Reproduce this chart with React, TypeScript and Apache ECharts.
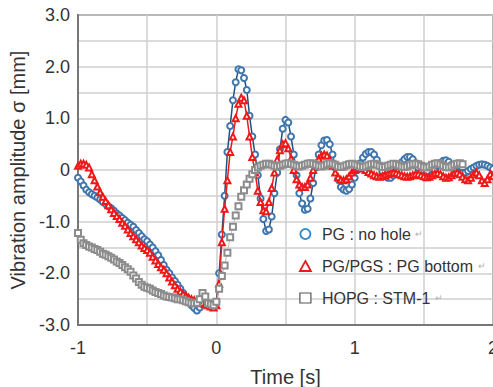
import React, { useEffect, useRef } from "react";
import * as echarts from "echarts";

const T_START = -1;
const T_STEP = 0.02;

const PG_NO_HOLE = [
  -0.15, -0.22, -0.3, -0.38, -0.43, -0.47, -0.5, -0.53, -0.57, -0.62,
  -0.66, -0.7, -0.74, -0.79, -0.84, -0.88, -0.93, -0.97, -1.02, -1.06,
  -1.1, -1.16, -1.22, -1.28, -1.34, -1.38, -1.44, -1.5, -1.57, -1.65,
  -1.74, -1.84, -1.93, -2.0, -2.08, -2.15, -2.22, -2.3, -2.38, -2.46,
  -2.54, -2.62, -2.67, -2.72, -2.66, -2.6, -2.58, -2.62, -2.64, -2.62,
  -2.55,
  -2.0, -1.25, -0.5, 0.35, 0.85, 1.35, 1.7, 1.95, 1.93, 1.78,
  1.55, 1.05, 0.65, 0.3, -0.1, -0.55, -0.95, -1.18, -1.15, -0.9,
  -0.45, -0.05, 0.4, 0.8, 0.97, 0.92, 0.65, 0.3, -0.1, -0.45,
  -0.65, -0.77, -0.75, -0.55, -0.25, 0.05, 0.3, 0.48, 0.57, 0.58,
  0.5, 0.3, 0.05, -0.18, -0.33, -0.38, -0.4, -0.37, -0.28, -0.15,
  0.0, 0.13, 0.24, 0.31, 0.35, 0.35, 0.3, 0.2, 0.08, -0.03,
  -0.11, -0.15, -0.15, -0.1, -0.02, 0.07, 0.15, 0.21, 0.25, 0.25,
  0.21, 0.13, 0.04, -0.05, -0.11, -0.14, -0.13, -0.08, 0.0, 0.08,
  0.14, 0.18, 0.19, 0.16, 0.1, 0.03, -0.02, -0.05, -0.06, -0.05,
  -0.02, 0.02, 0.05, 0.08, 0.1, 0.11, 0.1, 0.08, 0.05, 0.02,
];

const PG_PGS = [
  0.08, 0.12, 0.12, 0.1, 0.05, -0.08, -0.2, -0.32, -0.43, -0.52,
  -0.6, -0.68, -0.76, -0.83, -0.89, -0.95, -1.02, -1.08, -1.15, -1.22,
  -1.28, -1.34, -1.4, -1.46, -1.51, -1.55, -1.6, -1.68, -1.75, -1.82,
  -1.88, -1.93, -2.0, -2.08, -2.16, -2.23, -2.3, -2.35, -2.4, -2.44,
  -2.47, -2.5, -2.52, -2.55, -2.56, -2.58, -2.6, -2.62, -2.64, -2.66,
  -2.62,
  -2.2, -1.4, -0.75, -0.2, 0.35, 0.65, 1.0, 1.28, 1.4, 1.35,
  1.05, 0.65, 0.25, -0.05, -0.4, -0.62, -0.78, -0.8, -0.62, -0.35,
  -0.05, 0.2, 0.38, 0.5, 0.52, 0.42, 0.22, 0.0, -0.18, -0.28,
  -0.33, -0.33, -0.28, -0.15, 0.0, 0.12, 0.22, 0.28, 0.3, 0.28,
  0.2, 0.08, -0.05, -0.14, -0.19, -0.2, -0.18, -0.12, -0.05, 0.0,
  0.04, 0.05, 0.03, 0.0, -0.04, -0.07, -0.1, -0.12, -0.13, -0.12,
  -0.1, -0.08, -0.06, -0.05, -0.06, -0.08, -0.1, -0.12, -0.13, -0.12,
  -0.1, -0.08, -0.08, -0.1, -0.12, -0.14, -0.13, -0.1, -0.07, -0.06,
  -0.08, -0.12, -0.15, -0.14, -0.1, -0.06, -0.05, -0.08, -0.13, -0.18,
  -0.2, -0.15, -0.08, -0.05, -0.1, -0.2, -0.25, -0.18, -0.08, -0.12,
];

const HOPG = [
  -1.22, -1.35, -1.42, -1.45, -1.48, -1.5, -1.53, -1.55, -1.58, -1.62,
  -1.64, -1.67, -1.7, -1.73, -1.77, -1.8, -1.84, -1.88, -1.92, -1.97,
  -2.04, -2.1, -2.17, -2.22, -2.26, -2.28, -2.3, -2.33, -2.36, -2.38,
  -2.4, -2.43, -2.45, -2.46, -2.47, -2.48, -2.5, -2.5, -2.52, -2.54,
  -2.56, -2.58, -2.58, -2.57, -2.5, -2.38, -2.45, -2.58, -2.6, -2.62,
  -2.55,
  -2.3, -2.05, -1.85, -1.6, -1.3, -1.1, -0.88, -0.7, -0.52, -0.39,
  -0.28, -0.17, -0.08, 0.0, 0.05, 0.08, 0.1, 0.12, 0.12, 0.1,
  0.08, 0.07, 0.08, 0.1, 0.12, 0.13, 0.12, 0.1, 0.08, 0.07,
  0.08, 0.1, 0.12, 0.13, 0.12, 0.1, 0.08, 0.07, 0.08, 0.11,
  0.13, 0.12, 0.1, 0.07, 0.06, 0.07, 0.09, 0.11, 0.12, 0.11,
  0.09, 0.07, 0.06, 0.07, 0.09, 0.11, 0.12, 0.1, 0.08, 0.06,
  0.06, 0.08, 0.1, 0.12, 0.11, 0.09, 0.07, 0.06, 0.07, 0.09,
  0.11, 0.12, 0.11, 0.08, 0.06, 0.05, 0.07, 0.1, 0.12, 0.13,
  0.11, 0.08, 0.06, 0.05, 0.07, 0.1, 0.12, 0.13, 0.11,
];

const SERIES_NAMES = ["PG : no hole", "PG/PGS : PG bottom", "HOPG : STM-1"];
const X_TICKS = [-1, 0, 1, 2];
const Y_TICKS = [3, 2, 1, 0, -1, -2, -3];

const timeAt = (i: number) => +(T_START + i * T_STEP).toFixed(2);
const pairs = (vals: number[]) => vals.map((v, i) => [timeAt(i), v]);

const FONT = "'Liberation Sans', Arial, sans-serif";

export default function App() {
  const ref = useRef<HTMLDivElement>(null);
  useEffect(() => {
    if (!ref.current) return;
    const chart = echarts.init(ref.current, null, { renderer: "svg" });
    const blue = "#3f76ad";
    const red = "#f01818";
    const gray = "#8c8c8c";
    chart.setOption({
      animation: false,
      backgroundColor: "#fff",
      grid: {
        left: 78,
        right: 0,
        top: 15,
        bottom: 62,
        outerBoundsMode: "none",
        containLabel: false,
        show: true,
        borderColor: "#777",
        borderWidth: 2,
      },
      legend: {
        orient: "vertical",
        left: 294,
        top: 221,
        itemWidth: 11,
        itemHeight: 10,
        itemGap: 16,
        textStyle: {
          fontFamily: FONT,
          fontSize: 16,
          color: "#333",
          padding: [0, 0, 0, 6],
          rich: { m: { fontSize: 9, color: "#b0b0b0", fontFamily: FONT } },
        },
        formatter: (name: string) => `${name} {m|↵}`,
        data: [
          { name: SERIES_NAMES[0], icon: "circle", itemStyle: { color: "#fff", borderColor: "#2f8ad0", borderWidth: 1.8 } },
          { name: SERIES_NAMES[1], icon: "triangle", itemStyle: { color: "#fff", borderColor: red, borderWidth: 1.8 } },
          { name: SERIES_NAMES[2], icon: "rect", itemStyle: { color: "#fff", borderColor: "#555", borderWidth: 1.2 } },
        ],
      },
      xAxis: {
        type: "value",
        min: -1,
        max: 2,
        interval: 0.5,
        name: "Time [s]",
        nameLocation: "middle",
        nameGap: 42,
        nameTextStyle: { fontFamily: FONT, fontSize: 20, color: "#333" },
        axisLine: { show: true, onZero: false, lineStyle: { color: "#777", width: 2 } },
        axisTick: { show: false },
        axisLabel: {
          fontFamily: FONT,
          fontSize: 18,
          color: "#333",
          margin: 14,
          formatter: (v: number) => (X_TICKS.includes(v) ? String(v) : ""),
        },
        splitLine: { show: true, lineStyle: { color: "#cfcfcf", width: 1.5 } },
      },
      yAxis: {
        type: "value",
        min: -3,
        max: 3,
        interval: 0.5,
        name: "Vibration amplitude σ [mm]",
        nameLocation: "middle",
        nameGap: 48,
        nameTextStyle: { fontFamily: FONT, fontSize: 20, color: "#333" },
        axisLine: { show: true, onZero: false, lineStyle: { color: "#777", width: 2 } },
        axisTick: { show: false },
        axisLabel: {
          fontFamily: FONT,
          fontSize: 18,
          color: "#333",
          margin: 8,
          formatter: (v: number) =>
            Y_TICKS.includes(v) ? (v === 0 ? "0" : v.toFixed(1)) : "",
        },
        splitLine: { show: true, lineStyle: { color: "#cfcfcf", width: 1.5 } },
      },
      series: [
        {
          name: SERIES_NAMES[0],
          type: "line",
          data: pairs(PG_NO_HOLE),
          symbol: "emptyCircle",
          symbolSize: 6,
          showAllSymbol: true,
          itemStyle: { color: blue, borderColor: blue, borderWidth: 1.2 },
          lineStyle: { color: "#1f4f80", width: 1.5 },
          z: 2,
        },
        {
          name: SERIES_NAMES[1],
          type: "line",
          data: pairs(PG_PGS),
          symbol: "emptyTriangle",
          symbolSize: 6,
          showAllSymbol: true,
          itemStyle: { color: red, borderColor: red, borderWidth: 1.2 },
          lineStyle: { color: red, width: 1.5 },
          z: 3,
        },
        {
          name: SERIES_NAMES[2],
          type: "line",
          data: pairs(HOPG),
          symbol: "emptyRect",
          symbolSize: 6,
          showAllSymbol: true,
          itemStyle: { color: gray, borderColor: gray, borderWidth: 1.2 },
          lineStyle: { color: "#c0c0c0", width: 1 },
          z: 4,
        },
      ],
    });
    return () => chart.dispose();
  }, []);
  return (
    <div
      ref={ref}
      style={{ position: "absolute", left: 0, top: 0, width: 493, height: 387 }}
    />
  );
}
